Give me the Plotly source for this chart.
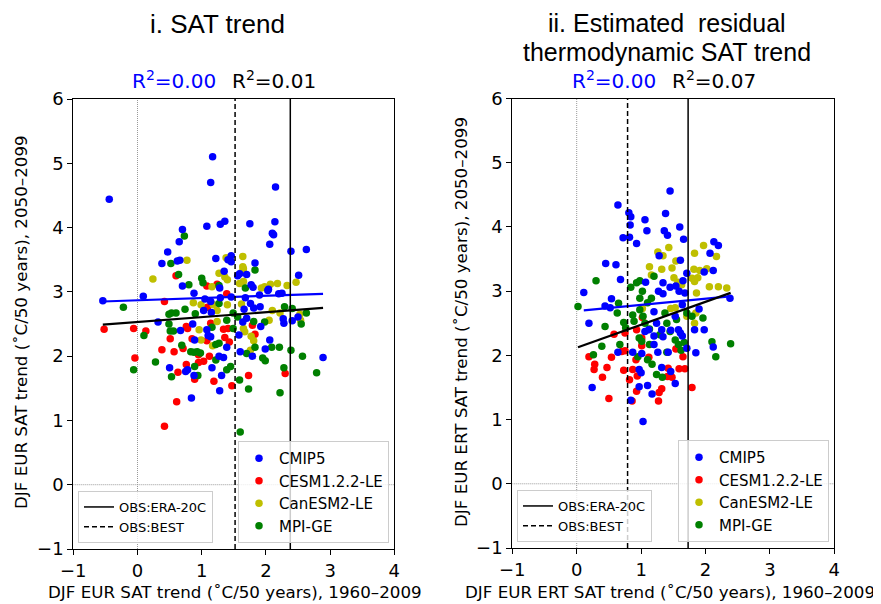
import numpy as np
import plotly.graph_objects as go

# ---------------- data: panel i (SAT trend) ----------------
p1_cmip5_x = [-0.44,1.17,1.14,2.15,1.36,1.29,1.08,1.75,2.14,2.10,2.12,0.70,0.65,2.06,0.47,2.39,2.63,0.38,0.62,0.66,1.22,1.46,1.41,1.46,1.83,1.35,2.51,1.59,1.70,1.56,0.70,1.77,1.80,1.28,2.04,
              -0.54,0.09,0.88,1.05,1.14,1.29,1.46,1.68,1.90,2.03,2.20,2.25,1.03,1.15,1.76,1.81,1.91,1.66,0.32,0.86,0.67,1.08,1.10,1.14,1.64,1.70,1.92,2.27,2.28,2.41,2.50,1.58,0.89,2.06,1.39,1.60,1.99,1.79,1.34,1.27,2.89,0.50,0.75,0.78,0.88,1.31,1.16,1.28,0.84]
p1_cmip5_y = [4.44,5.10,4.70,4.63,4.10,4.05,4.02,4.06,4.09,3.91,3.89,3.97,3.78,3.74,3.62,3.63,3.66,3.44,3.48,3.49,3.52,3.56,3.50,3.47,3.45,3.32,3.26,3.28,3.27,3.25,3.09,3.11,3.07,3.06,3.04,
              2.86,2.93,2.98,2.89,2.85,2.91,2.92,2.91,2.95,3.02,2.97,2.98,2.71,2.68,2.82,2.75,2.77,2.73,2.53,2.50,2.40,2.41,2.32,2.30,2.53,2.59,2.46,2.58,2.51,2.55,2.61,2.33,2.25,2.25,2.14,2.07,2.11,2.00,1.98,2.00,1.98,1.82,1.76,1.79,1.70,1.70,1.82,1.46,1.35]
p1_cesm_x = [0.60,1.08,1.24,-0.52,-0.06,0.13,0.42,-0.04,0.38,0.51,0.57,0.76,0.71,0.76,0.63,0.89,0.61,0.42,0.85,0.95,1.03,1.08,1.14,1.09,1.39,1.34,1.41,1.43,1.36,1.19,1.47,1.73,1.79,1.83,2.30,1.12,0.95,0.78]
p1_cesm_y = [3.25,3.09,3.12,2.42,2.43,2.39,2.85,1.97,2.10,2.27,2.07,2.46,2.12,1.87,1.75,1.64,1.29,0.91,2.27,1.90,1.92,2.24,2.51,2.76,2.97,2.42,2.43,2.22,2.29,1.61,1.54,1.70,2.48,2.34,1.73,2.00,2.02,2.43]
p1_canesm_x = [0.24,0.77,1.64,1.38,1.64,1.65,1.62,1.27,1.36,1.40,1.65,2.18,2.33,2.47,2.07,1.98,1.93,1.16,1.59,0.87,0.99,1.18,1.24,1.62,2.10,2.22,2.53,2.54,2.05,1.65,1.67,1.77,1.81,0.96,0.99,1.17,1.76,1.40,1.24]
p1_canesm_y = [3.20,3.49,3.55,3.53,3.39,3.36,3.30,3.29,3.23,3.19,3.16,3.13,3.10,3.15,3.12,3.08,3.06,3.08,3.13,2.83,2.80,2.80,2.71,2.81,2.71,2.67,2.65,2.56,2.56,2.43,2.38,2.31,2.24,2.41,2.25,2.16,2.09,2.80,2.54]
p1_mpi_x = [0.73,0.52,0.64,0.80,1.00,1.02,1.83,1.27,1.68,-0.22,0.10,-0.06,0.28,0.53,0.49,0.53,0.60,0.49,0.51,0.56,0.69,0.74,0.83,0.90,0.93,0.98,0.89,0.94,1.27,1.22,1.27,1.22,1.16,1.39,1.45,1.49,1.56,1.59,1.73,1.60,1.81,1.83,1.95,1.99,2.09,2.21,2.29,2.39,2.28,2.22,2.57,2.79,2.55,2.63,2.41,1.98,1.70,1.49,1.39,0.88]
p1_mpi_y = [3.87,3.44,3.27,3.11,3.21,3.14,3.34,3.10,3.06,2.76,2.32,1.79,1.91,1.68,2.65,2.67,2.67,2.50,2.39,2.39,2.17,2.73,2.07,2.66,2.07,2.05,1.84,1.70,2.82,2.18,2.20,1.94,2.45,1.79,1.84,2.67,2.61,1.63,1.49,0.82,2.54,2.14,1.97,1.93,2.14,2.14,2.77,2.09,1.82,1.43,2.00,1.74,2.50,2.67,2.74,2.53,2.04,2.43,2.56,2.06]

# ---------------- data: panel ii (residual thermodynamic SAT trend) ----------------
p2_cmip5_x = [1.45,0.64,0.81,0.84,0.83,1.06,1.38,1.09,1.36,1.41,1.60,0.72,0.82,1.66,0.93,2.13,2.20,2.07,1.28,1.61,0.45,0.61,1.98,2.12,1.71,0.68,1.07,1.34,1.65,0.11,0.54,1.27,1.34,1.45,1.54,1.59,1.68,2.38,
              0.19,0.24,0.44,0.52,0.64,0.87,1.01,0.97,1.00,0.97,1.10,1.17,0.84,1.03,1.32,1.46,1.53,1.26,1.42,1.34,1.20,1.20,1.06,1.12,1.24,1.32,1.46,1.58,1.61,1.64,1.71,1.83,1.98,1.85,2.12,1.90,1.64,1.20,1.53]
p2_cmip5_y = [4.56,4.34,4.22,4.16,4.03,4.11,4.21,3.94,3.94,3.87,4.00,3.83,3.84,3.81,3.74,3.77,3.71,3.59,3.55,3.48,3.43,3.41,3.30,3.32,3.28,3.18,3.14,3.13,3.16,2.98,2.88,3.00,2.96,3.06,3.08,3.00,2.97,2.89,
              2.50,1.50,2.77,2.74,2.05,2.05,2.03,1.78,1.73,1.51,1.53,1.40,1.30,0.97,1.81,1.75,1.56,2.05,2.05,2.29,2.30,2.17,2.37,2.40,2.50,2.40,2.39,2.40,2.35,2.30,2.11,2.40,2.40,2.04,2.13,2.72,2.79,2.68,2.61]
p2_cesm_x = [0.19,0.28,0.27,0.47,0.40,0.54,0.50,0.58,0.75,0.75,0.73,0.82,0.87,0.92,0.94,0.86,0.93,0.93,1.02,1.01,1.12,1.28,1.32,1.27,1.42,1.41,1.48,1.54,1.65,1.59,1.68,1.79,0.70,1.01]
p2_cesm_y = [1.98,1.86,1.78,1.81,1.66,1.97,1.33,2.33,2.07,2.35,1.77,1.62,1.78,1.93,1.68,1.29,1.44,2.40,2.59,2.15,1.97,1.42,1.48,1.29,1.80,1.67,1.66,2.10,1.98,1.79,1.79,1.50,2.06,2.27]
p2_canesm_x = [1.43,1.26,1.34,1.97,1.83,1.13,1.32,1.48,1.16,1.54,1.82,1.91,1.79,1.83,1.88,1.51,1.63,2.06,2.20,2.33,1.86,1.57,2.02,2.17,1.02,1.85,1.83,1.71,1.53,1.46]
p2_canesm_y = [3.68,3.61,3.55,3.71,3.59,3.38,3.34,3.36,3.25,3.47,3.34,3.32,3.20,3.15,3.21,3.21,3.10,3.07,3.07,3.05,2.97,3.14,3.35,3.54,2.73,2.66,2.50,2.61,2.74,2.73]
p2_mpi_x = [0.30,0.84,0.93,0.98,1.02,1.16,1.20,0.02,0.26,0.39,0.44,0.63,0.65,0.67,0.73,0.76,0.87,0.89,0.98,1.03,1.06,0.97,1.01,0.95,1.10,1.13,1.17,1.24,1.33,1.13,1.37,1.40,1.45,1.40,1.53,1.58,1.67,1.71,1.79,1.55,1.62,1.96,2.10,2.16,2.39,1.10,0.98,1.29]
p2_mpi_y = [3.16,3.06,3.13,3.16,3.00,2.89,3.23,2.76,2.01,2.14,2.45,2.66,2.81,2.17,2.51,2.43,2.63,2.53,2.71,2.61,2.50,2.27,2.22,1.98,1.93,2.17,1.86,1.70,1.66,2.41,2.66,2.50,2.37,2.05,2.24,2.17,2.20,2.66,2.61,2.56,2.08,2.58,2.21,1.98,2.18,2.82,2.89,2.32]

# regression fits (intercept, slope)
p1_fit_cmip5 = (2.869, 0.035)
p1_fit_all = (2.531, 0.076)
p2_fit_cmip5 = (2.690, 0.0965)
p2_fit_all = (2.120, 0.357)
r2_labels = [("0.00", "0.01"), ("0.00", "0.07")]

# observed trends (x)
obs_era20c = [2.38, 1.73]
obs_best = [1.52, 0.79]

series_names = ["CMIP5", "CESM1.2.2-LE", "CanESM2-LE", "MPI-GE"]
series_colors = ["#0000ff", "#ff0000", "#bfbf00", "#008000"]

panels = [
    dict(x=[p1_cmip5_x, p1_cesm_x, p1_canesm_x, p1_mpi_x],
         y=[p1_cmip5_y, p1_cesm_y, p1_canesm_y, p1_mpi_y],
         fit_c=p1_fit_cmip5, fit_a=p1_fit_all),
    dict(x=[p2_cmip5_x, p2_cesm_x, p2_canesm_x, p2_mpi_x],
         y=[p2_cmip5_y, p2_cesm_y, p2_canesm_y, p2_mpi_y],
         fit_c=p2_fit_cmip5, fit_a=p2_fit_all),
]

# the page body has an 8px margin: the figure is drawn at (8, 8) in the window
OFF = 8
W, H = 881 - OFF, 604 - OFF


def PX(px):
    return (px - OFF) / W


def PY(py):
    return 1 - (py - OFF) / H


fig = go.Figure()

draw_order = [1, 2, 3, 0]  # red, yellow, green, blue on top
for pi, p in enumerate(panels):
    xa = "x" if pi == 0 else "x2"
    ya = "y" if pi == 0 else "y2"
    mleg = "legend" if pi == 0 else "legend2"
    lleg = "legend3" if pi == 0 else "legend4"
    # zero reference lines
    fig.add_trace(go.Scatter(x=[0, 0], y=[-1, 6], mode="lines", xaxis=xa, yaxis=ya,
                             line=dict(color="#999999", width=1, dash="1px,1px"),
                             showlegend=False, hoverinfo="skip"))
    fig.add_trace(go.Scatter(x=[-1, 4], y=[0, 0], mode="lines", xaxis=xa, yaxis=ya,
                             line=dict(color="#999999", width=1, dash="1px,1px"),
                             showlegend=False, hoverinfo="skip"))
    for si in draw_order:
        fig.add_trace(go.Scatter(x=p["x"][si], y=p["y"][si], mode="markers", xaxis=xa, yaxis=ya,
                                 name=series_names[si], legend=mleg, legendrank=si + 1,
                                 marker=dict(color=series_colors[si], size=7.5, line=dict(width=0))))
    # regression lines
    xc = np.array(p["x"][0])
    xall = np.concatenate([np.array(v) for v in p["x"]])
    for fit, xs, col in [(p["fit_c"], xc, "#0000ff"), (p["fit_a"], xall, "black")]:
        xx = np.array([xs.min(), xs.max()])
        fig.add_trace(go.Scatter(x=xx, y=fit[0] + fit[1] * xx, mode="lines", xaxis=xa, yaxis=ya,
                                 line=dict(color=col, width=2.2), showlegend=False, hoverinfo="skip"))
    # observation lines
    fig.add_trace(go.Scatter(x=[obs_era20c[pi]] * 2, y=[-1, 6], mode="lines", xaxis=xa, yaxis=ya,
                             name="OBS:ERA-20C", legend=lleg, legendrank=1,
                             line=dict(color="black", width=1.5)))
    fig.add_trace(go.Scatter(x=[obs_best[pi]] * 2, y=[-1, 6], mode="lines", xaxis=xa, yaxis=ya,
                             name="OBS:BEST", legend=lleg, legendrank=2,
                             line=dict(color="black", width=1.5, dash="5px,3px")))

tickfont = dict(family="DejaVu Sans", size=18, color="black")
axis_common = dict(ticks="outside", ticklen=5, tickwidth=1.2, tickcolor="black",
                   linecolor="black", linewidth=1.2, mirror=True, showgrid=False,
                   zeroline=False, tickfont=tickfont, fixedrange=True, automargin=False)

ax_px = [(73.3, 394.3, 99, 549), (512.3, 834.3, 98.5, 548)]
for i, (l, r, t, b) in enumerate(ax_px):
    sfx = "" if i == 0 else "2"
    fig.update_layout(**{
        "xaxis" + sfx: dict(domain=[PX(l), PX(r)], range=[-1, 4], tickvals=[-1, 0, 1, 2, 3, 4],
                            anchor="y" + sfx, **axis_common),
        "yaxis" + sfx: dict(domain=[PY(b), PY(t)], range=[-1, 6], tickvals=list(range(-1, 7)),
                            anchor="x" + sfx, **axis_common),
    })

leg_common = dict(bgcolor="rgba(255,255,255,0.8)", bordercolor="#cccccc", borderwidth=1,
                  orientation="v", traceorder="normal", itemsizing="trace")
fig.update_layout(
    legend=dict(x=PX(389), y=PY(543), xanchor="right", yanchor="bottom",
                font=dict(family="DejaVu Sans", size=15, color="black"), **leg_common),
    legend2=dict(x=PX(829), y=PY(542), xanchor="right", yanchor="bottom",
                 font=dict(family="DejaVu Sans", size=15, color="black"), **leg_common),
    legend3=dict(x=PX(78), y=PY(543), xanchor="left", yanchor="bottom",
                 font=dict(family="DejaVu Sans", size=13, color="black"), **leg_common),
    legend4=dict(x=PX(517), y=PY(542), xanchor="left", yanchor="bottom",
                 font=dict(family="DejaVu Sans", size=13, color="black"), **leg_common),
)


def ann(text, px, py, size, family="Liberation Sans", color="black", angle=0):
    fig.add_annotation(text=text, x=PX(px), y=PY(py), xref="paper", yref="paper",
                       xanchor="center", yanchor="middle", showarrow=False, textangle=angle,
                       font=dict(family=family, size=size, color=color))


ann("i. SAT trend", 217.5, 24, 26)
ann("ii. Estimated  residual", 667, 22.5, 25)
ann("thermodynamic SAT trend", 667, 52, 25)
for i, cx in enumerate([0, 440]):
    ann("R<sup>2</sup>=" + r2_labels[i][0], cx + 173.5, 80, 20, family="DejaVu Sans", color="#0000ff")
    ann("R<sup>2</sup>=" + r2_labels[i][1], cx + 274, 80, 20, family="DejaVu Sans")
ann("DJF EUR SAT trend (˚C/50 years), 1960–2009", 235, 592, 16.7, family="DejaVu Sans")
ann("DJF EUR ERT SAT trend (˚C/50 years), 1960–2009", 670, 592, 16.7, family="DejaVu Sans")
ann("DJF EUR SAT trend (˚C/50 years), 2050–2099", 21, 322, 16.7, family="DejaVu Sans", angle=-90)
ann("DJF EUR ERT SAT trend (˚C/50 years), 2050–2099", 461, 322, 16.7, family="DejaVu Sans", angle=-90)

fig.update_layout(width=W, height=H, margin=dict(l=0, r=0, t=0, b=0),
                  paper_bgcolor="white", plot_bgcolor="white", hovermode=False)
fig.write_html("out.html")
